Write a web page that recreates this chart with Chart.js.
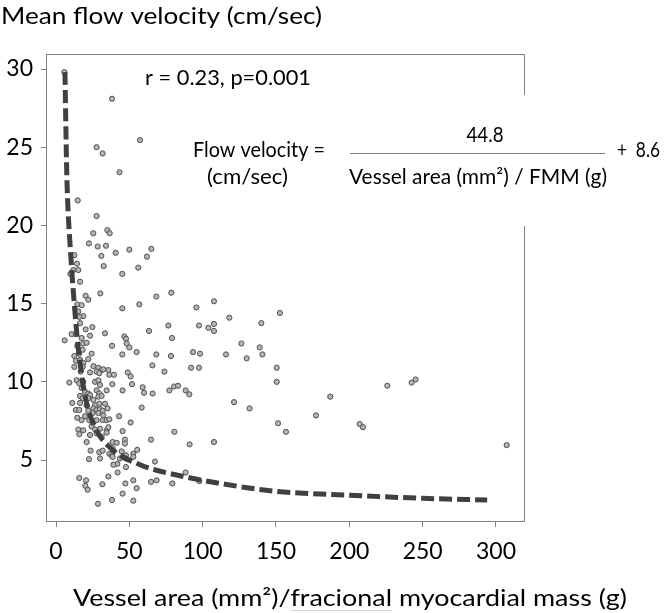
<!DOCTYPE html>
<html><head><meta charset="utf-8">
<script src="https://cdn.jsdelivr.net/npm/chart.js@4.4.1/dist/chart.umd.min.js"></script>
<style>html,body{margin:0;padding:0;background:#fff}#wrap{width:666px;height:613px}</style>
</head><body><div id="wrap"><canvas id="c" width="666" height="613"></canvas></div>
<script>
// ---- data ----
const xTicks = [0, 50, 100, 150, 200, 250, 300];
const yTicks = [5, 10, 15, 20, 25, 30];
const yAxisTitle = 'Mean flow velocity (cm/sec)';
const xAxisTitle = 'Vessel area (mm²)/fracional myocardial mass (g)';
const statsText = 'r = 0.23, p=0.001';
const eqLeft = 'Flow velocity =';
const eqUnit = '(cm/sec)';
const eqNum = '44.8';
const eqDen = 'Vessel area (mm²) / FMM (g)';
const eqConst = '+  8.6';

// scatter samples: [vessel area / FMM, mean flow velocity]
const samples = [
[5.7,29.8],[38.2,28.1],[27.7,25.0],[31.8,24.6],[43.3,23.4],[57.3,25.45],
[14.8,21.6],[27.7,20.6],[25.4,19.5],[35.0,19.7],[36.6,19.5],[22.5,18.85],[28.4,18.65],[34.1,18.7],[40.7,18.25],[50.0,18.45],[65.0,18.5],[62.0,18.0],[30.9,18.05],[12.5,18.1],[14.3,17.55],[32.5,17.4],[56.1,17.3],[11.8,17.15],[15.2,17.15],[45.2,16.9],[9.8,16.9],[16.4,16.4],[30.2,15.65],[20.2,15.5],[22.0,15.25],[68.4,15.45],[78.6,15.7],[14.5,14.95],[17.5,14.9],[45.2,14.7],[56.8,14.95],[15.2,14.5],[18.6,14.2],[15.9,14.15],[16.4,13.75],[95.7,14.75],[107.7,15.15],[118.2,14.1],[76.6,13.6],[97.5,13.6],[103.9,13.45],[107.7,13.7],[107.7,13.25],[24.8,13.5],[20.2,13.35],[10.7,13.05],[13.6,13.05],[17.5,12.8],[23.2,12.95],[33.4,13.1],[63.4,13.25],[46.6,12.9],[47.7,12.75],[79.1,12.8],[5.9,12.65],[14.5,12.3],[18.6,12.45],[20.9,12.5],[38.2,12.3],[48.2,12.45],[50.0,12.2],[12.5,11.65],[15.7,11.8],[18.2,12.05],[24.3,11.8],[45.2,11.75],[55.0,11.9],[68.4,11.75],[78.4,11.65],[93.4,11.9],[98.2,11.8],[115.9,11.75],[22.0,11.45],
[152.7,14.4],[140.0,13.75],[126.4,12.45],[138.9,12.2],[130.0,11.5],[140.7,11.75],[150.5,10.9],[150.5,10.0],[121.4,8.7],[132.0,8.3],[187.0,9.05],[177.3,7.85],[151.4,7.35],[156.8,6.8],[225.9,9.75],[242.5,9.95],[245.2,10.15],[207.1,7.3],[209.3,7.1],[307.3,5.95],
[13.6,11.35],[16.4,11.4],[18.6,11.2],[12.5,10.95],[18.2,10.95],[25.5,11.0],[28.9,10.9],[31.1,10.75],[32.3,10.8],[35.7,10.75],[65.7,11.05],[73.9,10.65],[92.1,10.9],[97.5,10.9],
[16.8,10.65],[23.2,10.6],[27.7,10.65],[29.5,10.55],[36.4,10.45],[39.5,10.45],[48.9,10.6],[50.9,10.35],[9.1,9.95],[14.1,10.1],[15.9,9.9],[18.6,10.0],[26.6,10.0],[28.9,10.1],[30.0,9.8],[38.4,9.85],[51.8,9.85],[59.1,9.65],[60.0,9.3],[65.9,9.25],[77.3,9.45],[80.5,9.7],[83.2,9.75],[88.4,9.45],[90.9,9.2],
[17.5,9.6],[19.8,9.35],[22.0,9.25],[23.2,9.15],[27.7,9.45],[29.5,9.25],[34.5,9.45],[45.4,9.45],[16.4,9.1],[18.2,8.95],[22.0,8.95],[25.5,8.85],[28.9,9.05],[31.1,9.1],[11.1,8.65],[16.4,8.65],[20.9,8.5],[26.6,8.5],[29.5,8.6],[33.4,8.6],
[13.6,8.2],[15.9,8.2],[22.0,8.15],[25.5,8.3],[27.7,8.2],[30.0,8.25],[31.8,8.15],[35.2,8.3],[58.4,8.35],[14.5,7.7],[17.5,7.55],[19.8,7.8],[25.0,8.0],[28.9,8.0],[32.3,7.85],[22.7,7.55],[25.0,7.35],[27.7,7.55],[31.8,7.55],[34.5,7.55],[36.4,7.6],[43.0,7.8],[50.9,7.4],[15.2,6.95],[15.9,6.65],[18.6,6.9],[24.3,7.15],[26.6,6.95],[30.0,7.0],[34.5,6.9],[35.7,7.1],[45.4,6.85],
[23.2,6.6],[27.7,6.7],[31.1,6.5],[34.5,6.75],[20.9,6.15],[38.6,6.15],[41.4,6.1],[47.0,6.3],[47.0,6.05],[64.8,6.3],[80.7,6.8],[91.1,6.0],[107.7,6.15],[23.6,5.6],[29.5,5.5],[31.8,5.6],[36.4,5.4],[38.0,5.3],[38.6,5.75],[44.8,5.55],[47.7,5.3],[52.7,5.4],[55.4,5.65],
[22.5,5.05],[30.0,5.1],[38.6,5.2],[43.6,5.1],[47.7,5.1],[52.7,5.2],[41.8,4.75],[39.1,4.7],[47.7,4.55],[67.5,4.9],[88.4,4.2],[97.7,3.65],
[15.9,3.85],[20.5,3.7],[20.0,3.35],[21.6,3.1],[35.7,3.95],[31.6,3.45],[42.0,4.2],[47.3,3.5],[52.7,3.7],[55.0,3.2],[64.8,3.6],[68.6,3.7],[79.3,3.5],[45.4,2.85],[28.6,2.2],[38.2,2.45],[52.7,2.4]
];

// fitted curve
const curveX = [6.1, 7.3, 8.2, 9.5, 11.0, 12.8, 15.0, 19.8, 26.6, 36.8, 57.3, 89.3, 111.8, 150, 200, 250, 294];
const curveY = [29.8, 23.5, 21.0, 18.9, 16.8, 14.6, 12.3, 9.1, 7.1, 5.8, 4.7, 3.9, 3.5, 3.0, 2.75, 2.55, 2.44];

// ---- chart ----
const FONT = 'Lato';
function fitText(ctx, text, x, y, w, size, align) {
  ctx.font = size + 'px ' + FONT;
  const m = ctx.measureText(text).width;
  const sx = w / m;
  ctx.save();
  ctx.translate(x, y);
  ctx.scale(sx, 1);
  ctx.textAlign = align;
  ctx.textBaseline = 'middle';
  ctx.fillText(text, 0, 0);
  ctx.restore();
  return sx;
}

const annotations = {
  id: 'annotations',
  afterDraw(chart) {
    const ctx = chart.ctx;
    const a = chart.chartArea;
    ctx.save();
    // top and right frame
    ctx.strokeStyle = '#808080';
    ctx.lineWidth = 1;
    ctx.beginPath();
    ctx.moveTo(a.left, a.top + 0.5); ctx.lineTo(a.right + 0.5, a.top + 0.5);
    ctx.lineTo(a.right + 0.5, 95);
    ctx.moveTo(a.right + 0.5, 226); ctx.lineTo(a.right + 0.5, a.bottom);
    ctx.stroke();

    ctx.fillStyle = '#000';
    fitText(ctx, yAxisTitle, 1, 16, 321, 24, 'left');
    fitText(ctx, statsText, 145, 78, 166, 21, 'left');
    fitText(ctx, eqLeft, 193, 150, 132, 21, 'left');
    fitText(ctx, eqUnit, 207, 177, 81, 21, 'left');
    fitText(ctx, eqNum, 485, 135, 37, 21, 'center');
    fitText(ctx, eqDen, 349, 177, 258, 21, 'left');
    fitText(ctx, eqConst, 617, 150, 43, 21, 'left');
    ctx.strokeStyle = '#808080';
    ctx.beginPath(); ctx.moveTo(350, 153.5); ctx.lineTo(605, 153.5); ctx.stroke();

    // x axis title with spell-check underline
    const sx = fitText(ctx, xAxisTitle, 73, 598, 554, 24, 'left');
    ctx.font = '24px ' + FONT;
    const pre = ctx.measureText('Vessel area (mm²)/').width * sx;
    const wd = ctx.measureText('fracional').width * sx;
    ctx.strokeStyle = '#b0b0b0';
    ctx.setLineDash([1, 1]);
    ctx.beginPath(); ctx.moveTo(73 + pre, 610.5); ctx.lineTo(73 + pre + wd, 610.5); ctx.stroke();
    ctx.restore();
  }
};

const axisCommon = {
  grid: { display: true, drawOnChartArea: false, drawTicks: true, color: '#808080', lineWidth: 1 },
  border: { display: true, color: '#808080', width: 1 },
};

new Chart(document.getElementById('c'), {
  type: 'scatter',
  data: {
    datasets: [
      {
        type: 'line',
        label: 'fit',
        data: curveX.map((x, i) => ({ x: x, y: curveY[i] })),
        borderColor: '#404040',
        borderWidth: 5,
        borderDash: [13, 5],
        borderCapStyle: 'butt',
        pointRadius: 0,
        fill: false,
        cubicInterpolationMode: 'monotone'
      },
      {
        label: 'vessels',
        data: samples.map(p => ({ x: p[0], y: p[1] })),
        pointRadius: 2.6,
        pointBackgroundColor: '#b4b4b4',
        pointBorderColor: '#505050',
        pointBorderWidth: 1
      }
    ]
  },
  options: {
    responsive: false,
    animation: false,
    devicePixelRatio: 1,
    layout: { padding: { top: 54, right: 142, left: 0, bottom: 0 } },
    plugins: { legend: { display: false }, tooltip: { enabled: false }, title: { display: false } },
    scales: {
      x: {
        type: 'linear', min: -6.82, max: 319.1,
        afterBuildTicks: s => { s.ticks = xTicks.map(v => ({ value: v })); },
        afterFit: s => { s.height = 92; },
        grid: Object.assign({}, axisCommon.grid, { tickLength: 6 }),
        border: axisCommon.border,
        ticks: { padding: 11, color: '#000', font: { family: FONT, size: 23 }, maxRotation: 0, autoSkip: false }
      },
      y: {
        type: 'linear', min: 1.1, max: 30.96,
        afterBuildTicks: s => { s.ticks = yTicks.map(v => ({ value: v })); },
        afterFit: s => { s.width = 46; },
        grid: Object.assign({}, axisCommon.grid, { tickLength: 5 }),
        border: axisCommon.border,
        ticks: { padding: 8, color: '#000', font: { family: FONT, size: 23 }, autoSkip: false }
      }
    }
  },
  plugins: [annotations]
});
</script>
</body></html>
